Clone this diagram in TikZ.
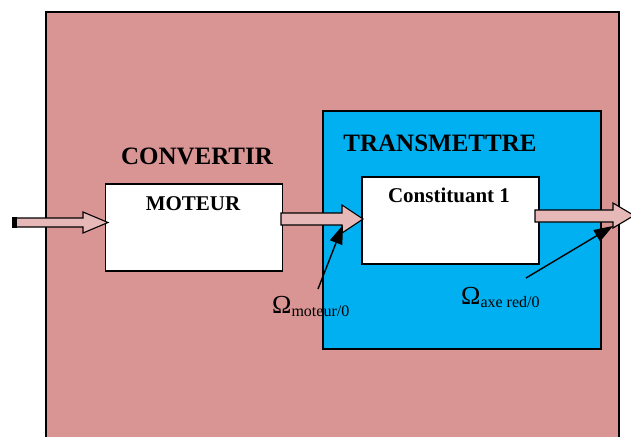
\documentclass[tikz,border=0pt]{standalone}
\usepackage{fontspec}
\setmainfont{Liberation Serif}
\usetikzlibrary{arrows.meta}
\definecolor{pinkbg}{HTML}{D99594}
\definecolor{bluebg}{HTML}{00B0F0}
\definecolor{arrowfill}{HTML}{E6B8B7}
\begin{document}
\begin{tikzpicture}[x=1pt,y=-1pt,
  frame/.style={draw=black,line width=1.5pt},
  whitebox/.style={draw=black,line width=1.5pt,fill=white},
  blockarrow/.style={draw=black,line width=1.1pt,fill=arrowfill},
  title/.style={font=\bfseries\fontsize{25}{30}\selectfont,anchor=base},
  boxtitle/.style={font=\bfseries\fontsize{21}{25}\selectfont,anchor=base},
  omega/.style={font=\fontsize{26}{30}\selectfont,anchor=base west,inner sep=0pt},
  pointer/.style={draw=black,line width=1.4pt,-{Triangle[length=19pt,width=13pt]}}]
\useasboundingbox (0,0) rectangle (631,436);
% outer
\path[frame,fill=pinkbg] (46,12) rectangle (619,445);
\path[frame,fill=bluebg] (323,111) rectangle (601,349);
\node[whitebox,minimum width=177,minimum height=87,inner sep=0,anchor=north west] (moteur) at (104.5,183) {};
\node[whitebox,minimum width=177,minimum height=87,inner sep=0,anchor=north west] (const) at (361,176) {};
\node[title] (conv) at (197,164) {CONVERTIR};
\node[title] (trans) at (440,151) {TRANSMETTRE};
\node[boxtitle] (mot) at (193,210) {MOTEUR};
\node[boxtitle] (c1) at (449,202) {Constituant 1};
% block arrows
\path[blockarrow] (14,218) -- (83,218) -- (83,212) -- (108,222.5) -- (83,233) -- (83,227) -- (14,227) -- cycle;
\fill[black] (12,217) rectangle (17,228);
\path[blockarrow] (281,213) -- (342,213) -- (342,205) -- (363,219) -- (342,233) -- (342,225) -- (281,225) -- cycle;
\path[blockarrow] (535,210) -- (613,210) -- (613,203) -- (634,215.5) -- (613,228) -- (613,222) -- (535,222) -- cycle;
% pointers
\coordinate (p1s) at (318,289);
\coordinate (p1e) at (343,225);
\coordinate (p2s) at (526,278);
\coordinate (p2e) at (613,226);
\draw[pointer] (p1s) -- (p1e);
\draw[pointer] (p2s) -- (p2e);
\node[omega] (om1) at (272,313) {Ω\raisebox{-3.5pt}{\fontsize{16}{19}\selectfont moteur/0}};
\node[omega] (om2) at (461,304) {Ω\raisebox{-3.5pt}{\fontsize{16}{19}\selectfont axe red/0}};
\end{tikzpicture}
\end{document}
